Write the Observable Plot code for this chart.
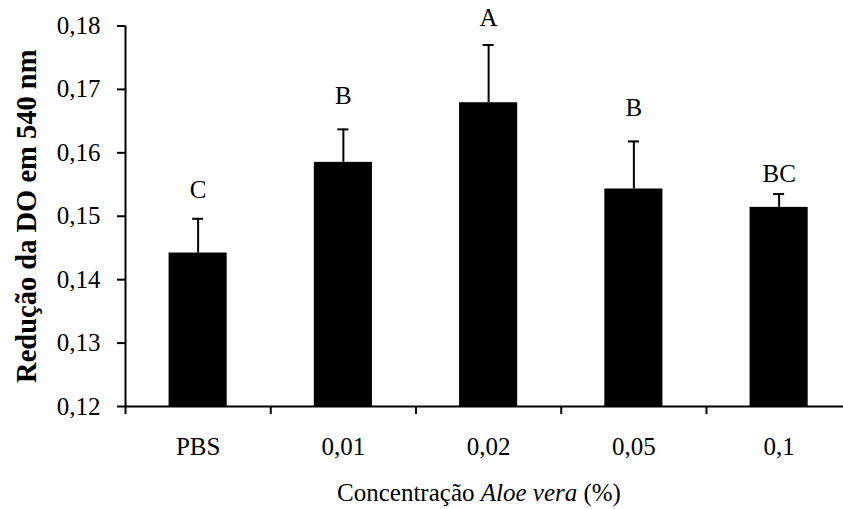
<!DOCTYPE html>
<html>
<head>
<meta charset="utf-8">
<script src="https://cdn.jsdelivr.net/npm/d3@7"></script>
<script src="https://cdn.jsdelivr.net/npm/@observablehq/plot@0.6"></script>
<style>
  html, body { margin: 0; padding: 0; background: white; overflow: hidden; }
  #chart svg { overflow: hidden; }
</style>
</head>
<body>
<div id="chart"></div>
<script>
const categories = ["PBS", "0,01", "0,02", "0,05", "0,1"];
const means = [0.1442, 0.1585, 0.1679, 0.1543, 0.1514];
const errors = [0.0054, 0.0052, 0.0091, 0.0075, 0.0021];
const letters = ["C", "B", "A", "B", "BC"];
const letterPos = [0.1541, 0.1690, 0.1812, 0.1670, 0.1567];
const yTicks = [0.12, 0.13, 0.14, 0.15, 0.16, 0.17, 0.18];
const yTitle = "Redução da DO em 540 nm";
const xTitleParts = [["Concentração ", "normal"], ["Aloe vera", "italic"], [" (%)", "normal"]];

const data = categories.map((c, i) => ({i, c, mean: means[i], err: errors[i], letter: letters[i], ly: letterPos[i]}));
const font = "'Liberation Serif', 'Times New Roman', serif";

const chart = Plot.plot({
  width: 843,
  height: 509,
  marginLeft: 125,
  marginRight: -8.25,
  marginTop: 25.5,
  marginBottom: 103,
  x: {domain: [0, categories.length], axis: null},
  y: {domain: [0.12, 0.18], axis: null},
  style: {fontFamily: font, fontSize: "25px", color: "black", background: "white"},
  marks: [
    Plot.rectY(data, {x1: d => d.i + 0.3, x2: d => d.i + 0.7, y1: d => 0.12, y2: "mean", fill: "black"}),
    Plot.ruleX(data, {x: d => d.i + 0.5, y1: "mean", y2: d => d.mean + d.err, stroke: "black", strokeWidth: 2}),
    Plot.ruleY(data, {x1: d => d.i + 0.5 - 0.038, x2: d => d.i + 0.5 + 0.038, y: d => d.mean + d.err, stroke: "black", strokeWidth: 2}),
    Plot.text(data, {x: d => d.i + 0.5, y: "ly", text: "letter", fontSize: 25, fill: "black"}),
    Plot.axisY({ticks: yTicks, tickFormat: d => d.toFixed(2).replace(".", ","), tickSize: 8, tickPadding: 17, strokeWidth: 2, fontSize: 25, label: null}),
    Plot.axisX({ticks: d3.range(categories.length + 1), tickFormat: () => "", tickSize: 8, strokeWidth: 2, label: null}),
    Plot.axisX({ticks: categories.map((c, i) => i + 0.5), tickFormat: v => categories[Math.floor(v)], tickSize: 0, tickPadding: 31, fontSize: 25, label: null}),
    Plot.ruleX([0], {stroke: "black", strokeWidth: 2}),
    Plot.ruleY([0.12], {stroke: "black", strokeWidth: 2}),
    Plot.text([yTitle], {frameAnchor: "left", textAnchor: "middle", dx: -99, rotate: -90, fontWeight: "bold", fontSize: 28.5, fill: "black"})
  ]
});
document.getElementById("chart").appendChild(chart);

const svg = d3.select(chart);
const t = svg.append("text")
  .attr("x", 479).attr("y", 501)
  .attr("text-anchor", "middle")
  .attr("font-family", font)
  .attr("font-size", 25)
  .attr("fill", "black");
xTitleParts.forEach(([s, st]) => t.append("tspan").attr("font-style", st).text(s));
</script>
</body>
</html>
